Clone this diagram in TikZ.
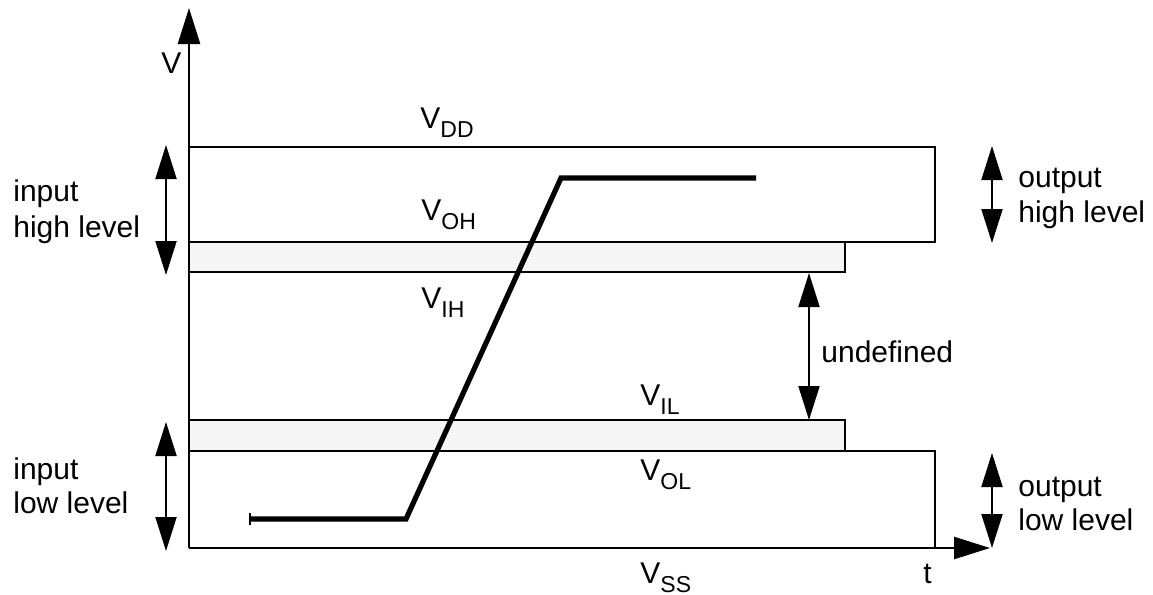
\documentclass[tikz,border=0pt]{standalone}
\usepackage{fontspec}
\setmainfont{Liberation Sans}
\usetikzlibrary{arrows.meta}
\definecolor{bandgray}{HTML}{F5F5F5}
\newcommand\lowsub[1]{\raisebox{-4.5pt}{\fontsize{11.5}{11.5}\selectfont #1}}
\begin{document}
\begin{tikzpicture}[x=0.5pt,y=-0.5pt,
  thinline/.style={line width=1pt},
  band/.style={draw=black, line width=1pt, fill=bandgray},
  axis/.style={line width=1.3pt,-{Triangle[length=18pt,width=11pt]}},
  dbl/.style={line width=1pt,{Triangle[length=17pt,width=10.5pt]}-{Triangle[length=17pt,width=10.5pt]}},
  lbl/.style={font=\fontsize{15}{18}\selectfont, inner sep=0pt, anchor=base west},
  signal/.style={line width=2.6pt, line join=miter},
  ]
\useasboundingbox (0,0) rectangle (1153,595);
% named points
\coordinate (O) at (189,548);
\coordinate (Vtop) at (189,8);
\coordinate (Tend) at (990,548);
% shaded bands (V_OH..V_IH and V_IL..V_OL)
\filldraw[band] (189,242) rectangle (845,272);
\filldraw[band] (189,420) rectangle (845,451);
% output boxes
\draw[thinline] (189,147) -- (935,147) -- (935,242) -- (189,242);
\draw[thinline] (189,451) -- (935,451) -- (935,548);
% axes
\draw[axis] (O) -- (Vtop);
\draw[axis] (O) -- (Tend);
% signal
\coordinate (s0) at (250,519);
\coordinate (s1) at (406,519);
\coordinate (s2) at (561,178);
\coordinate (s3) at (756,178);
\draw[signal] (s0) -- (s1) -- (s2) -- (s3);
\coordinate (k0) at (250,513);
\coordinate (k1) at (250,525);
\draw[line width=0.8pt] (k0) -- (k1);
% double arrows
\coordinate (ih0) at (166,145); \coordinate (ih1) at (166,275);
\coordinate (il0) at (166,422); \coordinate (il1) at (166,551);
\coordinate (oh0) at (992,146); \coordinate (oh1) at (992,243);
\coordinate (ol0) at (992,453); \coordinate (ol1) at (992,548);
\coordinate (ud0) at (809,273); \coordinate (ud1) at (809,420);
\draw[dbl] (ih0) -- (ih1);
\draw[dbl] (il0) -- (il1);
\draw[dbl] (oh0) -- (oh1);
\draw[dbl] (ol0) -- (ol1);
\draw[dbl] (ud0) -- (ud1);
% labels
\node[lbl] (lv) at (161,73) {V};
\node[lbl] (lt) at (923,583) {t};
\node[lbl] (vdd) at (420,128) {V\lowsub{DD}};
\node[lbl] (voh) at (421,220) {V\lowsub{OH}};
\node[lbl] (vih) at (421,308) {V\lowsub{IH}};
\node[lbl] (vil) at (640,405) {V\lowsub{IL}};
\node[lbl] (vol) at (640,480) {V\lowsub{OL}};
\node[lbl] (vss) at (640,583) {V\lowsub{SS}};
\node[lbl] (ihl1) at (13,201) {input};
\node[lbl] (ihl2) at (13,237) {high level};
\node[lbl] (ill1) at (13,479) {input};
\node[lbl] (ill2) at (13,513) {low level};
\node[lbl] (ohl1) at (1018,187) {output};
\node[lbl] (ohl2) at (1018,222) {high level};
\node[lbl] (oll1) at (1018,496) {output};
\node[lbl] (oll2) at (1018,530) {low level};
\node[lbl] (und) at (821,362) {undefined};
\end{tikzpicture}
\end{document}
